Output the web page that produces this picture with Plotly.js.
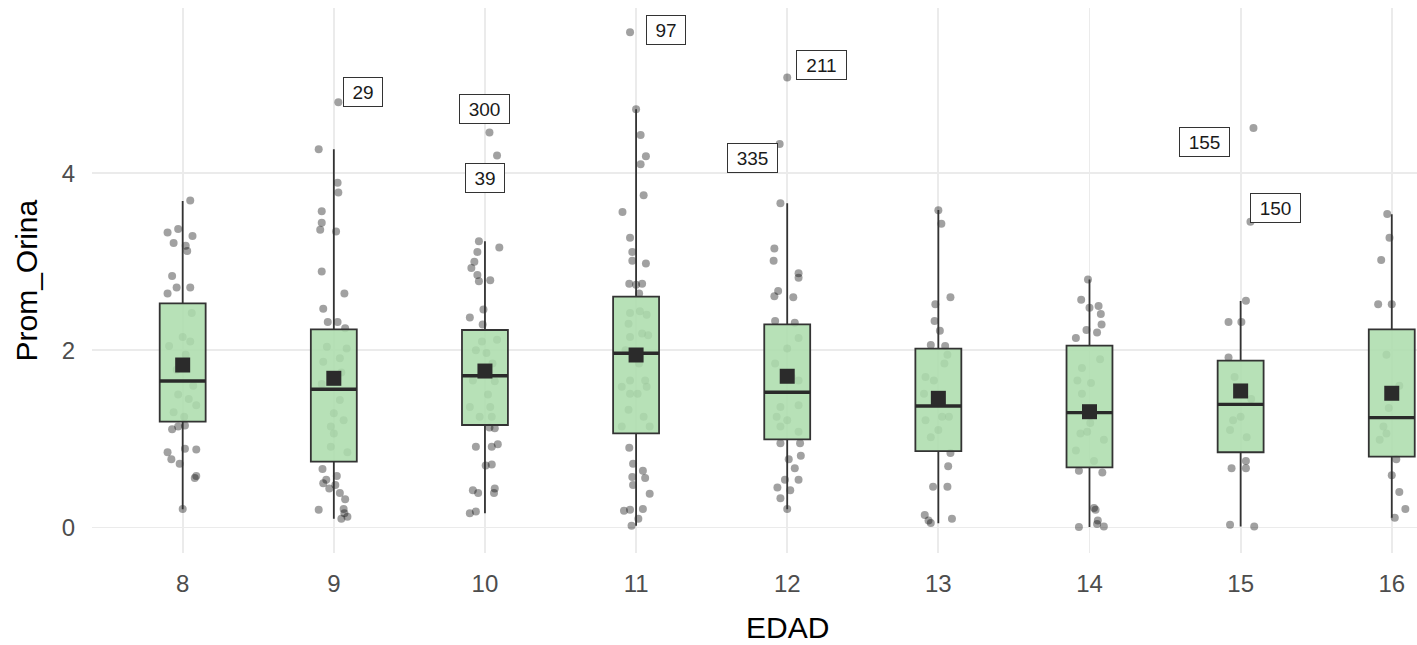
<!DOCTYPE html>
<html>
<head>
<meta charset="utf-8">
<script src="https://cdn.plot.ly/plotly-3.0.1.min.js"></script>
<style>
  html, body { margin: 0; padding: 0; background: #ffffff; overflow: hidden; }
  #grafico { width: 1417px; height: 645px; }
</style>
</head>
<body>
<div id="grafico"></div>
<script>
// Edades (eje x)
const edad = [8, 9, 10, 11, 12, 13, 14, 15, 16];

// Resumen de cada caja: cuartiles, bigotes y media de Prom_Orina por edad
const q1        = [1.194, 0.743, 1.157, 1.063, 0.995, 0.863, 0.679, 0.849, 0.800];
const mediana   = [1.653, 1.560, 1.713, 1.966, 1.526, 1.371, 1.296, 1.390, 1.240];
const q3        = [2.530, 2.237, 2.229, 2.605, 2.293, 2.020, 2.052, 1.883, 2.237];
const bigoteInf = [0.205, 0.100, 0.160, 0.020, 0.205, 0.047, 0.005, 0.010, 0.111];
const bigoteSup = [3.685, 4.270, 3.230, 4.720, 3.660, 3.584, 2.800, 2.556, 3.535];
const media     = [1.834, 1.684, 1.766, 1.947, 1.707, 1.458, 1.307, 1.541, 1.515];

// Observaciones individuales de Prom_Orina por edad, con su desplazamiento horizontal (jitter)
const orina8  = [3.69, 3.37, 3.33, 3.29, 3.21, 3.18, 3.12, 2.84, 2.71, 2.71, 2.64, 2.42, 2.15, 2.10, 2.05, 1.95, 1.78, 1.60, 1.50, 1.45, 1.38, 1.30, 1.25, 1.15, 1.14, 1.11, 0.89, 0.88, 0.85, 0.77, 0.72, 0.58, 0.56, 0.21];
const jit8    = [0.05, -0.03, -0.10, 0.065, -0.06, 0.02, 0.03, -0.07, -0.04, 0.05, -0.10, 0.06, 0.0, 0.05, -0.09, 0.02, -0.04, 0.07, -0.03, 0.04, 0.09, -0.06, 0.01, 0.015, -0.03, -0.07, 0.015, 0.09, -0.10, -0.075, -0.02, 0.09, 0.08, 0.0];
const orina9  = [4.80, 4.27, 3.89, 3.78, 3.57, 3.44, 3.36, 3.34, 2.89, 2.64, 2.47, 2.32, 2.32, 2.25, 2.04, 2.02, 1.91, 1.87, 1.75, 1.62, 1.44, 1.29, 1.21, 1.14, 1.06, 0.91, 0.85, 0.66, 0.58, 0.54, 0.50, 0.48, 0.44, 0.39, 0.32, 0.21, 0.20, 0.16, 0.12, 0.10];
const jit9    = [0.03, -0.10, 0.025, 0.03, -0.08, -0.08, -0.09, 0.015, -0.08, 0.07, -0.07, -0.04, 0.025, 0.075, -0.046, 0.085, 0.04, -0.07, 0.05, -0.08, 0.04, 0.0, 0.065, -0.02, 0.0, -0.02, 0.09, -0.075, 0.02, -0.05, -0.07, 0.01, -0.03, 0.04, 0.075, 0.065, -0.10, 0.07, 0.09, 0.05];
const orina10 = [4.46, 4.20, 3.23, 3.16, 3.11, 3.00, 2.93, 2.85, 2.79, 2.78, 2.46, 2.37, 2.29, 2.12, 2.10, 2.00, 1.97, 1.85, 1.66, 1.65, 1.50, 1.36, 1.36, 1.25, 1.25, 1.13, 1.12, 0.94, 0.91, 0.91, 0.71, 0.70, 0.44, 0.42, 0.39, 0.39, 0.18, 0.16];
const jit10   = [0.03, 0.08, -0.04, 0.095, -0.05, -0.07, -0.09, -0.05, 0.035, -0.04, -0.01, -0.10, -0.015, 0.08, -0.02, -0.06, 0.01, 0.05, -0.08, 0.065, 0.02, -0.10, 0.035, -0.035, 0.045, 0.03, 0.065, 0.085, -0.06, 0.045, 0.045, 0.005, 0.065, -0.08, -0.045, 0.06, -0.06, -0.10];
const orina11 = [5.59, 4.72, 4.43, 4.19, 4.10, 3.75, 3.56, 3.27, 3.11, 3.01, 2.98, 2.75, 2.74, 2.75, 2.64, 2.44, 2.42, 2.40, 2.30, 2.19, 2.17, 2.15, 2.00, 1.85, 1.66, 1.66, 1.59, 1.59, 1.51, 1.51, 1.33, 1.25, 1.14, 1.14, 0.90, 0.72, 0.64, 0.57, 0.56, 0.48, 0.38, 0.21, 0.20, 0.19, 0.10, 0.02];
const jit11   = [-0.04, 0.0, 0.03, 0.065, 0.03, 0.05, -0.09, -0.04, -0.025, -0.025, 0.065, -0.045, 0.0, 0.04, 0.02, 0.025, -0.04, 0.07, -0.05, 0.04, 0.08, -0.04, -0.07, 0.02, -0.04, 0.06, 0.07, -0.095, -0.04, 0.01, -0.05, 0.05, -0.095, 0.09, -0.045, -0.02, 0.045, -0.025, 0.06, -0.02, 0.09, 0.045, -0.04, -0.08, 0.015, -0.03];
const orina12 = [5.08, 4.33, 3.66, 3.15, 3.01, 2.87, 2.82, 2.67, 2.61, 2.60, 2.33, 2.31, 2.14, 2.02, 1.85, 1.70, 1.66, 1.38, 1.36, 1.25, 1.21, 1.14, 1.08, 0.95, 0.95, 0.81, 0.77, 0.67, 0.54, 0.54, 0.45, 0.42, 0.33, 0.21];
const jit12   = [0.0, -0.05, -0.045, -0.085, -0.09, 0.075, 0.075, -0.06, -0.085, 0.04, -0.08, 0.05, 0.075, 0.0, -0.08, 0.03, 0.075, 0.075, -0.045, -0.07, 0.0, -0.045, 0.075, -0.045, 0.085, 0.09, 0.01, 0.05, -0.015, 0.075, -0.065, 0.02, -0.045, 0.0];
const orina13 = [3.58, 3.43, 2.60, 2.52, 2.33, 2.22, 2.06, 2.05, 1.95, 1.85, 1.70, 1.66, 1.51, 1.25, 1.25, 1.21, 1.10, 1.02, 0.84, 0.69, 0.46, 0.46, 0.14, 0.08, 0.05, 0.10];
const jit13   = [0.0, 0.02, 0.08, -0.02, -0.025, 0.01, -0.05, 0.045, 0.06, 0.04, -0.085, -0.03, -0.095, 0.025, 0.07, -0.085, 0.0, -0.05, 0.08, 0.065, -0.035, 0.06, -0.09, -0.065, -0.05, 0.09];
const orina14 = [2.80, 2.57, 2.48, 2.50, 2.41, 2.29, 2.23, 2.20, 2.14, 1.90, 1.80, 1.66, 1.63, 1.51, 1.18, 1.08, 1.06, 0.99, 0.87, 0.75, 0.64, 0.62, 0.22, 0.20, 0.08, 0.04, 0.01, 0.005];
const jit14   = [-0.01, -0.055, 0.0, 0.06, 0.075, 0.08, -0.02, 0.05, -0.09, 0.07, -0.05, -0.08, 0.01, -0.05, 0.005, -0.015, -0.06, 0.095, -0.09, 0.03, -0.07, 0.085, 0.03, 0.04, 0.055, 0.05, 0.095, -0.07];
const orina15 = [4.51, 3.45, 2.56, 2.32, 2.32, 1.92, 1.70, 1.45, 1.25, 1.21, 1.10, 1.02, 0.75, 0.67, 0.67, 0.03, 0.01];
const jit15   = [0.085, 0.065, 0.035, -0.08, 0.005, -0.08, -0.04, 0.07, 0.0, -0.05, -0.07, 0.04, 0.035, -0.06, 0.035, -0.07, 0.09];
const orina16 = [3.54, 3.27, 3.02, 2.52, 2.52, 1.95, 1.60, 1.35, 1.14, 1.06, 0.99, 0.77, 0.59, 0.40, 0.21, 0.11];
const jit16   = [-0.03, -0.015, -0.07, -0.09, 0.0, -0.035, 0.05, -0.02, -0.055, -0.035, -0.08, 0.03, 0.0, 0.05, 0.09, 0.02];

// Observaciones atípicas identificadas por número de fila
const etiquetaId    = ['29', '300', '39', '97', '211', '335', '155', '150'];
const etiquetaEdad  = [9, 10, 10, 11, 12, 12, 15, 15];
const etiquetaValor = [4.80, 4.46, 4.20, 5.59, 5.08, 4.33, 4.51, 3.45];

// Colocación de cada etiqueta respecto a su observación (unidades de los ejes)
const etiquetaDx = [0.194, 0.0, 0.0, 0.197, 0.227, -0.23, -0.238, 0.229];
const etiquetaDy = [0.115, 0.264, -0.255, 0.022, 0.146, -0.16, -0.159, 0.156];

const FUENTE = '"Liberation Sans", Arial, Helvetica, sans-serif';

// Puntos con jitter
const grupos = [
  [8, orina8, jit8], [9, orina9, jit9], [10, orina10, jit10],
  [11, orina11, jit11], [12, orina12, jit12], [13, orina13, jit13],
  [14, orina14, jit14], [15, orina15, jit15], [16, orina16, jit16]
];
const ptX = [], ptY = [];
grupos.forEach(([e, valores, desp]) => {
  valores.forEach((v, i) => { ptX.push(e + desp[i]); ptY.push(v); });
});

const ANCHO_CAJA = 0.304;

const trazaPuntos = {
  type: 'scatter', mode: 'markers',
  x: ptX, y: ptY,
  marker: { color: 'rgba(0,0,0,0.37)', size: 8, line: { width: 0 } },
  hoverinfo: 'skip', showlegend: false, zorder: 0
};

const trazaCajas = {
  type: 'box',
  x: edad, q1: q1, median: mediana, q3: q3,
  lowerfence: bigoteInf, upperfence: bigoteSup,
  width: ANCHO_CAJA, whiskerwidth: 0, boxpoints: false,
  fillcolor: 'rgba(172,221,172,0.87)',
  line: { color: '#333333', width: 1.8 },
  hoverinfo: 'skip', showlegend: false, zorder: 1
};

// Línea de la mediana, más gruesa que el borde de la caja
const medX = [], medY = [];
edad.forEach((e, i) => {
  medX.push(e - ANCHO_CAJA / 2, e + ANCHO_CAJA / 2, null);
  medY.push(mediana[i], mediana[i], null);
});
const trazaMediana = {
  type: 'scatter', mode: 'lines', x: medX, y: medY,
  line: { color: '#2a2a2a', width: 3.4 },
  hoverinfo: 'skip', showlegend: false, zorder: 2
};

const trazaMedia = {
  type: 'scatter', mode: 'markers', x: edad, y: media,
  marker: { symbol: 'square', size: 15, color: '#2b2b2b', line: { width: 0 } },
  hoverinfo: 'skip', showlegend: false, zorder: 3
};

const anotaciones = etiquetaId.map((t, i) => ({
  xref: 'x', yref: 'y',
  x: etiquetaEdad[i] + etiquetaDx[i],
  y: etiquetaValor[i] + etiquetaDy[i],
  text: t, showarrow: false,
  font: { family: FUENTE, size: 19, color: '#1a1a1a' },
  bgcolor: '#ffffff', bordercolor: '#333333', borderwidth: 1, borderpad: 0,
  width: 11 * t.length + 16, height: 28
}));

// Títulos de los ejes
anotaciones.push({
  xref: 'x', yref: 'paper', x: 12, y: 0, yanchor: 'middle', yshift: -74,
  text: 'EDAD', showarrow: false,
  font: { family: FUENTE, size: 30, color: '#000000' }
});
anotaciones.push({
  xref: 'paper', yref: 'paper', x: 0, y: 0.5, xanchor: 'center', xshift: -66,
  textangle: -90, text: 'Prom_Orina', showarrow: false,
  font: { family: FUENTE, size: 30, color: '#000000' }
});

const layout = {
  width: 1417, height: 645,
  margin: { l: 92, r: 0, t: 8, b: 92 },
  paper_bgcolor: '#ffffff', plot_bgcolor: '#ffffff',
  showlegend: false,
  font: { family: FUENTE },
  xaxis: {
    range: [7.4, 16.167], tickvals: edad, ticktext: edad.map(String),
    showgrid: true, gridcolor: '#ebebeb', gridwidth: 1.8,
    zeroline: false, showline: false, ticks: '',
    tickfont: { family: FUENTE, size: 24, color: '#4d4d4d' },
    ticklabelstandoff: 14, fixedrange: true
  },
  yaxis: {
    range: [-0.288, 5.864], tickvals: [0, 2, 4], ticktext: ['0', '2', '4'],
    showgrid: true, gridcolor: '#ebebeb', gridwidth: 1.8,
    zeroline: false, showline: false, ticks: '',
    tickfont: { family: FUENTE, size: 24, color: '#4d4d4d' },
    ticklabelstandoff: 16, fixedrange: true
  },
  annotations: anotaciones
};

Plotly.newPlot('grafico', [trazaPuntos, trazaCajas, trazaMediana, trazaMedia], layout,
  { displayModeBar: false, staticPlot: true });
</script>
</body>
</html>
